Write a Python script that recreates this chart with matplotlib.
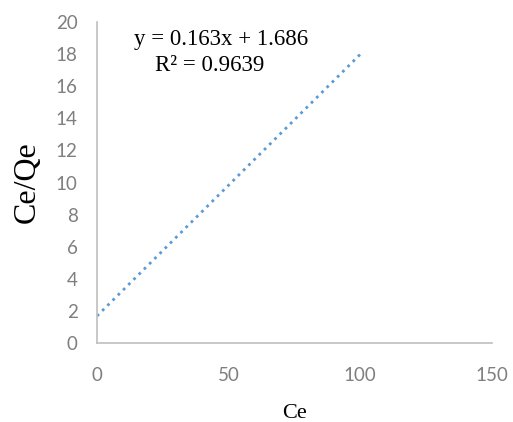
import matplotlib.pyplot as plt

# trendline end points (Excel linear fit, data markers hidden)
ce_values = [0, 100]
ce_qe_values = [1.686, 17.986]
x_ticks = [0, 50, 100, 150]
y_ticks = [0, 2, 4, 6, 8, 10, 12, 14, 16, 18, 20]
equation = "y = 0.163x + 1.686"
r_squared = "R² = 0.9639"

fig = plt.figure(figsize=(5.13, 4.22), dpi=100)
ax = fig.add_axes([0.189, 0.187, 0.770, 0.761])

ax.plot(ce_values, ce_qe_values, color="#5B9BD5", linestyle=":", linewidth=2)

ax.set_xlim(0, 150)
ax.set_ylim(0, 20)
ax.set_xticks(x_ticks)
ax.set_yticks(y_ticks)

for side in ["top", "right"]:
    ax.spines[side].set_visible(False)
for side in ["left", "bottom"]:
    ax.spines[side].set_color("#BFBFBF")
    ax.spines[side].set_linewidth(1.2)

ax.tick_params(length=0, labelsize=13.5, labelcolor="#7F7F7F")
ax.tick_params(axis="y", pad=14)
ax.tick_params(axis="x", pad=17)
for lbl in ax.get_xticklabels() + ax.get_yticklabels():
    lbl.set_fontfamily("Lato")

ax.set_ylabel("Ce/Qe", fontsize=23, family="Liberation Serif")
ax.yaxis.set_label_coords(-0.14, 0.5)
ax.set_xlabel("Ce", fontsize=16, family="Liberation Serif")
ax.xaxis.set_label_coords(0.501, -0.19)

ax.text(0.314, 0.944, equation, transform=ax.transAxes, ha="center", va="center",
        fontsize=16.5, family="Liberation Serif")
ax.text(0.286, 0.863, r_squared, transform=ax.transAxes, ha="center", va="center",
        fontsize=16.5, family="Liberation Serif")

plt.savefig("out.png", dpi=100)
